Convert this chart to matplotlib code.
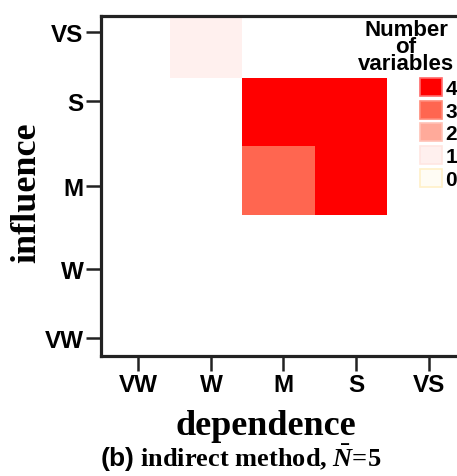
import numpy as np
import matplotlib
matplotlib.use("Agg")
import matplotlib.pyplot as plt
from matplotlib.colors import ListedColormap, BoundaryNorm
from matplotlib.patches import Patch

# levels on both axes
levels = ["VW", "W", "M", "S", "VS"]

# number of variables in each cell: rows = influence (VW..VS), cols = dependence (VW..VS)
counts = np.array([
    [0, 0, 0, 0, 0],   # VW
    [0, 0, 0, 0, 0],   # W
    [0, 0, 3, 4, 0],   # M
    [0, 0, 4, 4, 0],   # S
    [0, 1, 0, 0, 0],   # VS
])

count_levels = [4, 3, 2, 1, 0]
level_colors = ["#fffcf4", "#fff0ee", "#ffaa9a", "#ff6650", "#ff0000"]  # 0..4
legend_edges = ["#fff0c8", "#ffe6e2", "#ffc2b6", "#ff8a78", "#ff6a6a"]  # 0..4

sans = "Liberation Sans"
serif = "Liberation Serif"
plt.rcParams["mathtext.fontset"] = "custom"
plt.rcParams["mathtext.rm"] = "Liberation Serif:bold"
plt.rcParams["mathtext.it"] = "Liberation Serif:italic:bold"
plt.rcParams["mathtext.sf"] = "Liberation Sans:bold"

W, H = 457, 477
fig = plt.figure(figsize=(W / 100, H / 100), dpi=100)
ax = fig.add_axes([101 / W, 120 / H, 366 / W, 340 / H])

cmap = ListedColormap(level_colors)
norm = BoundaryNorm(np.arange(-0.5, 5.5), cmap.N)
masked = np.ma.masked_equal(counts, 0)
ax.pcolormesh(np.arange(6), np.arange(6), masked, cmap=cmap, norm=norm)

ax.set_xlim(0.055, 5.1)
ax.set_ylim(-0.06, 4.905)

# tick marks sit a little off the cell centres
ax.set_xticks(np.arange(5) + 0.57)
ax.set_yticks([0.2, 1.21, 2.42, 3.66, 4.67])
ax.set_xticklabels(levels)
ax.set_yticklabels(levels)
for lab in ax.get_xticklabels() + ax.get_yticklabels():
    lab.set_fontfamily(sans)
    lab.set_fontweight("bold")
    lab.set_fontsize(17.5)
ax.tick_params(length=11, width=1.8, color="#222222", pad=1.5)

for side in ["left", "bottom", "top"]:
    ax.spines[side].set_linewidth(2.3)
    ax.spines[side].set_color("#222222")
ax.spines["right"].set_visible(False)

fig.text(266 / W, (H - 435) / H, "dependence", ha="center", va="baseline",
         fontfamily=serif, fontweight="bold", fontsize=26)
fig.text(35 / W, (H - 193) / H, "influence", ha="center", va="baseline",
         rotation=90, rotation_mode="anchor",
         fontfamily=serif, fontweight="bold", fontsize=26)
fig.text(241 / W, (H - 467) / H,
         r"$\mathsf{(b)}$ indirect method, $\bar{N}$=5",
         ha="center", va="baseline",
         fontfamily=serif, fontweight="bold", fontsize=19)

# legend: title drawn on its own so it can sit above the swatches
fig.text(406 / W, (H - 70) / H, "Number\nof\nvariables", ha="center", va="baseline",
         multialignment="center", linespacing=0.76,
         fontfamily=sans, fontweight="bold", fontsize=16)
handles = [Patch(facecolor=level_colors[k], edgecolor=legend_edges[k], linewidth=1.2)
           for k in count_levels]
leg = fig.legend(handles, [str(k) for k in count_levels], loc="upper right",
                 bbox_to_anchor=(457 / W, (H - 79) / H),
                 frameon=False, borderpad=0, borderaxespad=0,
                 handlelength=1.05, handleheight=0.95, handletextpad=0.15,
                 labelspacing=0.12, prop={"family": sans, "weight": "bold", "size": 15})

fig.savefig("out.png", dpi=100)
